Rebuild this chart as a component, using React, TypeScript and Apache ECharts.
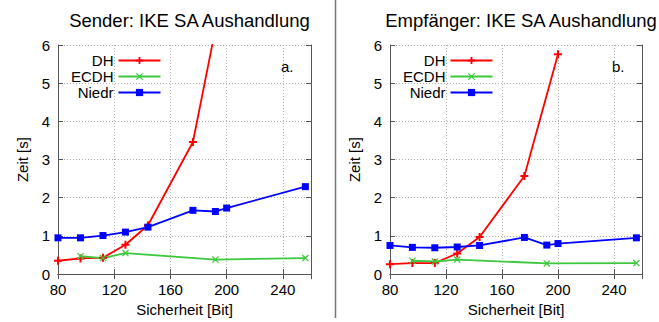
import React, { useEffect, useRef } from "react";
import * as echarts from "echarts";

// Security levels (bits) on the x axis
const niedrBits = [80, 96, 112, 128, 144, 176, 192, 200, 256];
const dhBits = [80, 96, 112, 128, 144, 176, 200];
const ecdhBits = [96, 112, 128, 192, 256];

// Sender (a.)
const senderDH = [0.35, 0.41, 0.43, 0.77, 1.28, 3.46, 7.9];
const senderECDH = [0.47, 0.42, 0.55, 0.38, 0.42];
const senderNiedr = [0.95, 0.95, 1.01, 1.1, 1.23, 1.67, 1.64, 1.73, 2.29];

// Empfänger (b.)
const receiverDH = [0.26, 0.29, 0.29, 0.54, 0.97, 2.57, 5.76];
const receiverECDH = [0.35, 0.33, 0.38, 0.28, 0.29];
const receiverNiedr = [0.75, 0.7, 0.69, 0.71, 0.75, 0.96, 0.76, 0.8, 0.95];

const titles = ["Sender: IKE SA Aushandlung", "Empfänger: IKE SA Aushandlung"];
const panelTags = ["a.", "b."];
const seriesNames = ["DH", "ECDH", "Niedr"];

const FONT = "'Liberation Sans', Arial, Helvetica, sans-serif";
const AXIS_COLOR = "#555";

const PLUS = "path://M3,0H5V3H8V5H5V8H3V5H0V3H3Z";
const CROSS = "path://M0,1L1,0L8,7L7,8Z M7,0L8,1L1,8L0,7Z";

const zip = (xs: number[], ys: number[]) => xs.map((x, i) => [x, ys[i]]);

const grids = [
  { left: 58, top: 45, width: 253, height: 231 },
  { left: 390, top: 45, width: 252, height: 231 },
];

export default function App() {
  const ref = useRef<HTMLDivElement>(null);

  useEffect(() => {
    if (!ref.current) return;
    const chart = echarts.init(ref.current, undefined, { renderer: "svg" });

    const xAxes: any[] = [];
    const yAxes: any[] = [];
    grids.forEach((_, gi) => {
      xAxes.push({
        type: "value",
        gridIndex: gi,
        min: 80,
        max: 260,
        interval: 40,
        name: "Sicherheit [Bit]",
        nameLocation: "middle",
        nameGap: 26,
        nameTextStyle: { fontSize: 15, color: "#000", fontFamily: FONT },
        axisLine: { show: true, lineStyle: { color: AXIS_COLOR, width: 1 } },
        axisTick: { show: true, inside: true, length: 5, lineStyle: { color: AXIS_COLOR } },
        axisLabel: { fontSize: 15, color: "#000", fontFamily: FONT, margin: 8, showMaxLabel: false },
        splitLine: { show: true, lineStyle: { type: [1, 2], color: "#b0b0b0", width: 1 } },
      });
      xAxes.push({
        type: "value",
        gridIndex: gi,
        position: "top",
        min: 80,
        max: 260,
        interval: 40,
        axisLine: { show: true, lineStyle: { color: AXIS_COLOR, width: 1 } },
        axisTick: { show: true, inside: true, length: 5, lineStyle: { color: AXIS_COLOR } },
        axisLabel: { show: false },
        splitLine: { show: false },
      });
      yAxes.push({
        type: "value",
        gridIndex: gi,
        min: 0,
        max: 6,
        interval: 1,
        name: "Zeit [s]",
        nameLocation: "middle",
        nameGap: 28,
        nameTextStyle: { fontSize: 15, color: "#000", fontFamily: FONT },
        axisLine: { show: true, lineStyle: { color: AXIS_COLOR, width: 1 } },
        axisTick: { show: true, inside: true, length: 5, lineStyle: { color: AXIS_COLOR } },
        axisLabel: { fontSize: 15, color: "#000", fontFamily: FONT, margin: 8 },
        splitLine: { show: true, lineStyle: { type: [1, 2], color: "#b0b0b0", width: 1 } },
      });
      yAxes.push({
        type: "value",
        gridIndex: gi,
        position: "right",
        min: 0,
        max: 6,
        interval: 1,
        axisLine: { show: true, lineStyle: { color: AXIS_COLOR, width: 1 } },
        axisTick: { show: true, inside: true, length: 5, lineStyle: { color: AXIS_COLOR } },
        axisLabel: { show: false },
        splitLine: { show: false },
      });
    });

    const panels = [
      { dh: senderDH, ecdh: senderECDH, niedr: senderNiedr },
      { dh: receiverDH, ecdh: receiverECDH, niedr: receiverNiedr },
    ];

    const series: any[] = [];
    panels.forEach((p, gi) => {
      const axisIdx = gi * 2;
      series.push({
        name: "DH",
        type: "line",
        xAxisIndex: axisIdx,
        yAxisIndex: axisIdx,
        data: zip(dhBits, p.dh),
        symbol: PLUS,
        symbolSize: 8,
        showAllSymbol: true,
        clip: true,
        color: "#ff0000",
        lineStyle: { color: "#ff0000", width: 1.8 },
        itemStyle: { color: "#ff0000" },
      });
      series.push({
        name: "ECDH",
        type: "line",
        xAxisIndex: axisIdx,
        yAxisIndex: axisIdx,
        data: zip(ecdhBits, p.ecdh),
        symbol: CROSS,
        symbolSize: 7,
        showAllSymbol: true,
        clip: true,
        color: "#3cc83c",
        lineStyle: { color: "#3cc83c", width: 1.8 },
        itemStyle: { color: "#3cc83c" },
      });
      series.push({
        name: "Niedr",
        type: "line",
        xAxisIndex: axisIdx,
        yAxisIndex: axisIdx,
        data: zip(niedrBits, p.niedr),
        symbol: "rect",
        symbolSize: 7,
        showAllSymbol: true,
        clip: true,
        color: "#0000ff",
        lineStyle: { color: "#0000ff", width: 1.8 },
        itemStyle: { color: "#0000ff" },
      });
    });

    const makeLegend = (left: number) => ({
      orient: "vertical",
      align: "right",
      left,
      top: 48,
      itemWidth: 42,
      itemHeight: 9,
      itemGap: 1,
      selectedMode: false,
      data: seriesNames.map((n) => ({
        name: n,
        textStyle: { fontSize: 15, color: "#000", fontFamily: FONT },
      })),
      formatter: (name: string) => `{t|${name}}`,
      textStyle: {
        fontSize: 15,
        color: "#000",
        fontFamily: FONT,
        rich: { t: { fontSize: 15, lineHeight: 15, color: "#000", fontFamily: FONT } },
      },
    });

    chart.setOption({
      animation: false,
      backgroundColor: "#ffffff",
      title: titles.map((t, i) => ({
        text: t,
        left: grids[i].left + grids[i].width / 2,
        textAlign: "center",
        top: 6,
        textStyle: { fontSize: 18.5, fontWeight: "normal", color: "#000", fontFamily: FONT },
      })),
      legend: [makeLegend(66), makeLegend(398)],
      grid: grids.map((g) => ({ ...g, containLabel: false })),
      xAxis: xAxes,
      yAxis: yAxes,
      series,
      graphic: [
        {
          type: "line",
          shape: { x1: 335.5, y1: 0, x2: 335.5, y2: 318 },
          style: { stroke: "#777", lineWidth: 1.5 },
          silent: true,
        },
        ...panelTags.map((tag, i) => ({
          type: "text",
          left: grids[i].left + grids[i].width - 30,
          top: 59,
          style: { text: tag, fontSize: 15, fill: "#000", fontFamily: FONT },
          silent: true,
        })),
      ],
    });

    return () => chart.dispose();
  }, []);

  return (
    <div
      ref={ref}
      style={{ position: "absolute", left: 0, top: 0, width: 659, height: 322 }}
    />
  );
}
